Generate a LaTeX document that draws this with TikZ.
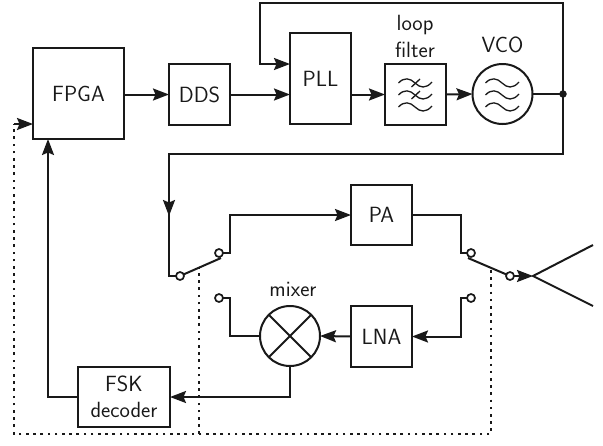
\documentclass[tikz,border=0pt]{standalone}
\usepackage{fontspec}
\setsansfont{Latin Modern Sans}
\usetikzlibrary{arrows.meta}
\begin{document}
\begin{tikzpicture}[x=1pt,y=-1pt,line width=2pt,line cap=butt,
  black!90,text=black!90,
  font=\sffamily\fontsize{22}{26}\selectfont,
  blockbox/.style={draw,rectangle,outer sep=0pt,inner sep=0pt,minimum width=#1,minimum height=61pt},
  roundblock/.style={draw,circle,outer sep=0pt,inner sep=0pt,minimum size=60pt},
  contact/.style={draw,circle,fill=white,inner sep=0pt,minimum size=8pt,outer sep=0pt,line width=1.7pt},
  junction/.style={fill,circle,inner sep=0pt,minimum size=7.5pt},
  label/.style={inner sep=0pt,align=center},
  conn/.style={-{Stealth[length=16pt,width=12pt,inset=2.5pt]}},
  ctrl/.style={line width=2pt,dash pattern=on 2.6pt off 4.6pt},
  thin wave/.style={line width=1.3pt}]
\useasboundingbox (0,0) rectangle (603,445);

% blocks
\node[blockbox=91pt,minimum height=91pt] (fpga) at (78.5,93.5) {FPGA};
\node[blockbox=61pt] (dds) at (199.5,94.5) {DDS};
\node[blockbox=61pt,minimum height=91pt] (pll) at (320.5,78.5) {PLL};
\node[blockbox=61pt] (filt) at (415.5,94.5) {};
\node[roundblock] (vco) at (502.5,94) {};
\node[junction] (dot) at (563,94) {};
\node[blockbox=61pt,minimum height=60pt] (pa) at (381.5,215) {PA};
\node[blockbox=61pt] (lna) at (381.5,336.5) {LNA};
\node[roundblock] (mix) at (290,336) {};
\node[blockbox=92pt,minimum height=60pt] (fsk) at (124,397) {};

% labels
\node[label] (tfsk) at (124,384) {FSK};
\node[label] (tdec) at (124,410) {\fontsize{22}{26}\selectfont decoder};
\node[label] (tloop) at (415,25) {loop};
\node[label] (tfilt) at (415,50) {filter};
\node[label] (tvco) at (502.5,45) {VCO};
\node[label] (tmix) at (293,289) {mixer};

% mixer cross
\draw (mix.45) -- (mix.225) (mix.135) -- (mix.315);

% waves
\foreach \wy in {83,95,107}{
  \draw[thin wave] (398.5,\wy) .. controls (404,\wy-6) and (410,\wy-5) .. (415,\wy)
     .. controls (420,\wy+5) and (426,\wy+6) .. (432,\wy-1);
  \draw[thin wave] (485.5,\wy) .. controls (491,\wy-6) and (497,\wy-5) .. (502,\wy)
     .. controls (507,\wy+5) and (513,\wy+6) .. (519,\wy-1);
}
\draw[thin wave] (411.5,87) -- (420,79) (411.5,99) -- (420,91);

% switch points
\coordinate (s1arm) at (221,258);
\coordinate (s2arm) at (468,258);
\node[contact] (s1c) at (180,276) {};
\node[contact] (s1a) at (219,253) {};
\node[contact] (s1b) at (219,298) {};
\node[contact] (s2a) at (471,253) {};
\node[contact] (s2b) at (471,298) {};
\node[contact] (s2c) at (510,276) {};
\coordinate (ant) at (533,276);
\coordinate (antu) at (593,245);
\coordinate (antd) at (593,306);

% connectors
\draw[conn] (fpga.east |- dds.west) -- (dds.west);
\draw[conn] (dds.east) -- (pll.west |- dds.east);
\draw[conn] (pll.east |- filt.west) -- (filt.west);
\draw[conn] (filt.east) -- (vco.west);
\draw (vco.east) -- (dot.center);
\coordinate (top1) at (563,3);
\coordinate (top2) at (260,3);
\coordinate (top3) at (260,64);
\draw[conn] (dot.center) -- (top1) -- (top2) -- (top3) -- (pll.west |- top3);
\coordinate (mid1) at (563,154);
\coordinate (mid2) at (169,154);
\coordinate (mid3) at (169,276);
\draw (dot.center) -- (mid1) -- (mid2) -- (mid3) -- (s1c.west);
\coordinate (arrowmid) at (169,216);
\draw[conn] (mid2) -- (arrowmid);
\draw (s1c) -- (s1arm);
\coordinate (u1) at (230,253);
\coordinate (u2) at (230,215);
\draw[conn] (s1a.east) -- (u1) -- (u2) -- (pa.west);
\coordinate (v1) at (461,215);
\coordinate (v2) at (461,253);
\draw (pa.east) -- (v1) -- (v2) -- (s2a.west);
\draw (s2arm) -- (s2c);
\draw[conn] (s2c.east) -- (ant);
\draw (antu) -- (ant) -- (antd);
\coordinate (w1) at (461,298);
\coordinate (w2) at (461,336.5);
\draw[conn] (s2b.west) -- (w1) -- (w2) -- (lna.east);
\draw[conn] (lna.west) -- (mix.east);
\coordinate (x1) at (230,298);
\coordinate (x2) at (230,336);
\draw (s1b.east) -- (x1) -- (x2) -- (mix.west);
\coordinate (y1) at (290,397);
\draw[conn] (mix.south) -- (y1) -- (fsk.east);
\coordinate (z1) at (48,397);
\draw[conn] (fsk.west) -- (z1) -- (z1 |- fpga.south);

% control lines
\coordinate (c1) at (14,124);
\coordinate (c2) at (14,434);
\coordinate (c3) at (199,434);
\coordinate (c4) at (199,268);
\coordinate (c5) at (491,434);
\coordinate (c6) at (491,270);
\draw[ctrl] (c6) -- (c5) -- (c2) -- (c1);
\draw[ctrl] (c3) -- (c4);
\draw[conn] (c1) -- (fpga.west |- c1);
\end{tikzpicture}
\end{document}
